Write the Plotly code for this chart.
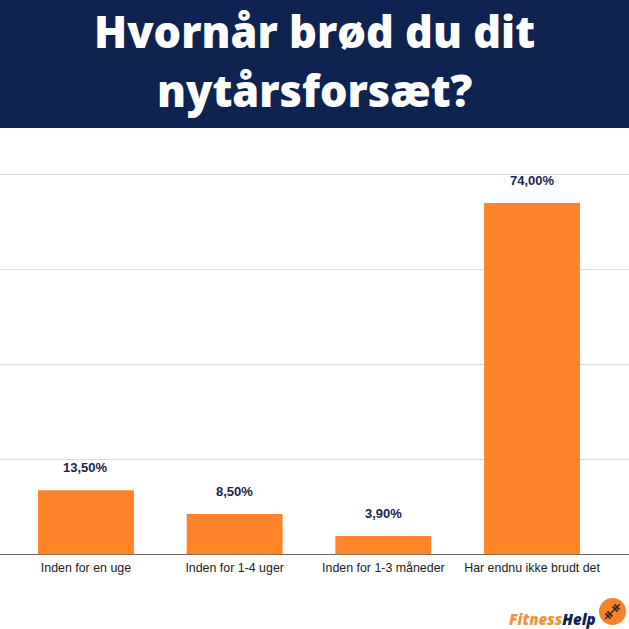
import plotly.graph_objects as go

categories = ["Inden for en uge", "Inden for 1-4 uger", "Inden for 1-3 måneder", "Har endnu ikke brudt det"]
values = [13.5, 8.5, 3.9, 74.0]
value_labels = ["13,50%", "8,50%", "3,90%", "74,00%"]
y_ticks = [0, 20, 40, 60, 80]
title_lines = ["Hvornår brød du dit", "nytårsforsæt?"]

W = H = 629
NAVY = "#0e2350"
ORANGE = "#ff8328"

def px(x):
    return x / W

def py(y):
    return 1 - y / H

fig = go.Figure(go.Bar(
    x=categories, y=values, width=0.645,
    marker=dict(color=ORANGE, line=dict(width=0)),
    hoverinfo="x+y",
))

shapes = [
    dict(type="rect", xref="paper", yref="paper", x0=0, x1=1, y0=py(128), y1=1,
         fillcolor=NAVY, line_width=0, layer="below"),
    dict(type="circle", xref="paper", yref="paper", x0=px(599), x1=px(626), y0=py(625), y1=py(598),
         fillcolor="#f5832a", line_width=0),
    dict(type="line", xref="paper", yref="paper", x0=px(605), x1=px(620), y0=py(619), y1=py(604),
         line=dict(color="#3a2a20", width=1.5)),
]
for cx, cy in [(608, 616), (610, 614), (615, 609), (617, 607)]:
    shapes.append(dict(type="line", xref="paper", yref="paper",
                       x0=px(cx - 2.5), x1=px(cx + 2.5), y0=py(cy - 2.5), y1=py(cy + 2.5),
                       line=dict(color="#3a2a20", width=1.8)))

annotations = [
    dict(x=c, y=v, text=t, xref="x", yref="y", showarrow=False, yanchor="bottom", yshift=13,
         font=dict(family="Liberation Sans", size=13, color="#1a2550", weight="bold"))
    for c, v, t in zip(categories, values, value_labels)
]
for line, cy in zip(title_lines, [32, 91]):
    annotations.append(dict(x=0.5, y=py(cy), text=line, xref="paper", yref="paper", showarrow=False,
                            xanchor="center", yanchor="middle",
                            font=dict(family="Open Sans", size=43.3, color="white", weight=800)))
annotations.append(dict(x=px(597.5), y=py(619),
                        text='<i><span style="color:#f0923c">Fitness</span>Help</i>',
                        xref="paper", yref="paper", showarrow=False,
                        xanchor="right", yanchor="middle",
                        font=dict(family="Open Sans", size=15, color=NAVY, weight=800)))

fig.update_layout(
    width=W, height=H, margin=dict(l=0, r=0, t=0, b=0), autosize=False,
    paper_bgcolor="white", plot_bgcolor="white", showlegend=False,
    shapes=shapes, annotations=annotations,
    xaxis=dict(type="category", categoryorder="array", categoryarray=categories,
               range=[-0.578, 3.652], showgrid=False, ticks="", showline=False, zeroline=False,
               anchor="y", ticklabelstandoff=4,
               tickfont=dict(family="Liberation Sans", size=12.4, color="#222222")),
    yaxis=dict(domain=[py(554.5), py(173.07)], range=[0, 80.3], tickvals=y_ticks, showticklabels=False,
               gridcolor="#dcdcdc", gridwidth=1, zeroline=True, zerolinecolor="#666666", zerolinewidth=1,
               ticks="", showline=False),
)

fig.write_html("out.html", config={"displayModeBar": False},
               post_script="document.body.style.margin='0';document.documentElement.style.overflow='hidden';")
